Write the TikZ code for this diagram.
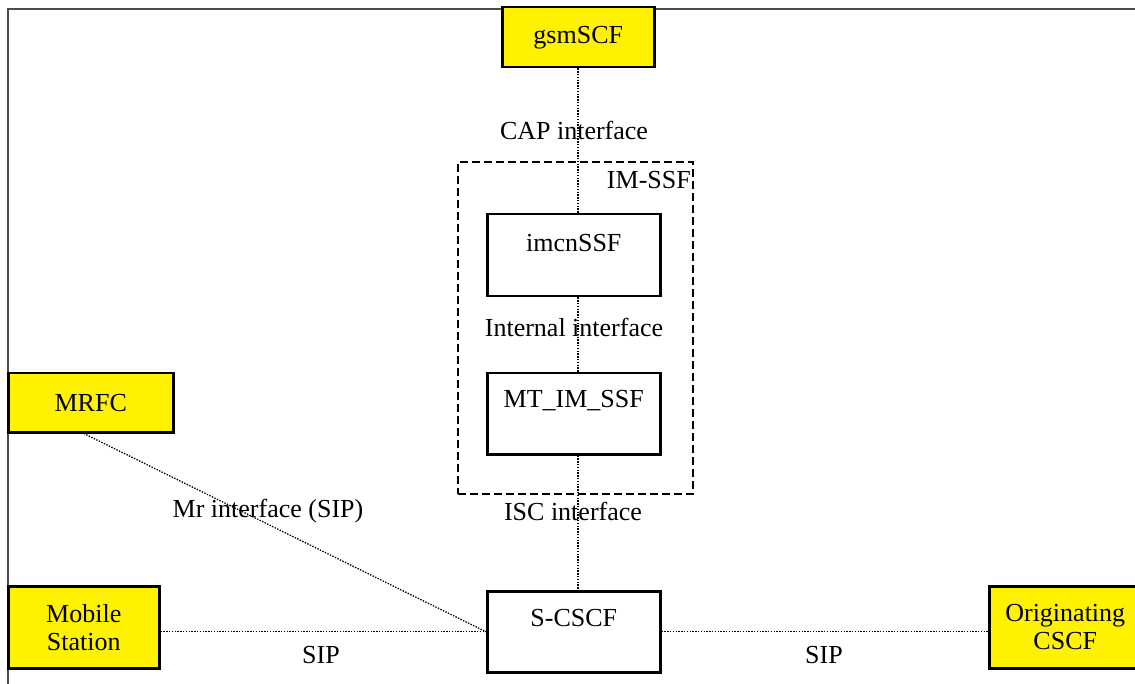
\documentclass[tikz,border=0pt]{standalone}
\usepackage{fontspec}
\setmainfont{Liberation Serif}
\usetikzlibrary{calc}
\begin{document}
\begin{tikzpicture}[x=1pt,y=-1pt,
  every node/.style={font=\fontsize{26}{28}\selectfont},
  box/.style={draw, line width=2.5pt, rectangle, inner sep=0pt, anchor=north west, fill=white},
  ybox/.style={box, fill=yellow, align=center},
  lbl/.style={inner sep=0pt},
  dotline/.style={line width=1.3pt, dash pattern=on 1.4pt off 1.4pt},
  dashbox/.style={draw, line width=1.8pt, dash pattern=on 8pt off 4pt, rectangle, inner sep=0pt, anchor=north west},
  frame/.style={draw=black!70, line width=2pt}]
\useasboundingbox (0,0) rectangle (1135,684);
% frame
\draw[frame] (8,684) -- (8,9) -- (1135,9);
% nodes
\node[dashbox, minimum width=235, minimum height=332] (imssf) at (457,161) {};
\node[lbl, anchor=east] (imssfl) at (691,180) {IM-SSF};
\node[ybox, minimum width=152, minimum height=60] (gsm) at (501,6) {gsmSCF};
\node[box, minimum width=173, minimum height=82] (imcn) at (486,213) {};
\node[lbl] (imcnt) at ($(imcn.north)+(0,30)$) {imcnSSF};
\node[box, minimum width=173, minimum height=81] (mt) at (486,372) {};
\node[lbl] (mtt) at ($(mt.north)+(0,29)$) {MT\_IM\_SSF};
\node[box, minimum width=173, minimum height=81] (scscf) at (486,590) {};
\node[lbl] (scscft) at ($(scscf.north)+(0,28)$) {S-CSCF};
\node[ybox, minimum width=165, minimum height=59] (mrfc) at (7,372) {MRFC};
\node[ybox, minimum width=151, minimum height=82] (ms) at (7,585) {Mobile\\Station};
\node[ybox, minimum width=152, minimum height=82] (orig) at (988,585) {Originating\\CSCF};
% connectors
\coordinate (vx) at (578,0);
\draw[dotline] (gsm.south -| vx) -- (imcn.north -| vx);
\draw[dotline] (imcn.south -| vx) -- (mt.north -| vx);
\draw[dotline] (mt.south -| vx) -- (scscf.north -| vx);
\draw[dotline] ($(mrfc.south)+(-7,0)$) -- (scscf.west);
\draw[dotline] (ms.east |- scscf.west) -- (scscf.west);
\draw[dotline] (scscf.east) -- (orig.west |- scscf.east);
% labels
\node[lbl] (cap) at (574,130) {CAP interface};
\node[lbl] (int) at (574,327) {Internal interface};
\node[lbl] (isc) at (573,511) {ISC interface};
\node[lbl] (mr) at (268,511) {Mr interface (SIP)};
\node[lbl] (sip1) at (321,655) {SIP};
\node[lbl] (sip2) at (824,655) {SIP};
\end{tikzpicture}
\end{document}
